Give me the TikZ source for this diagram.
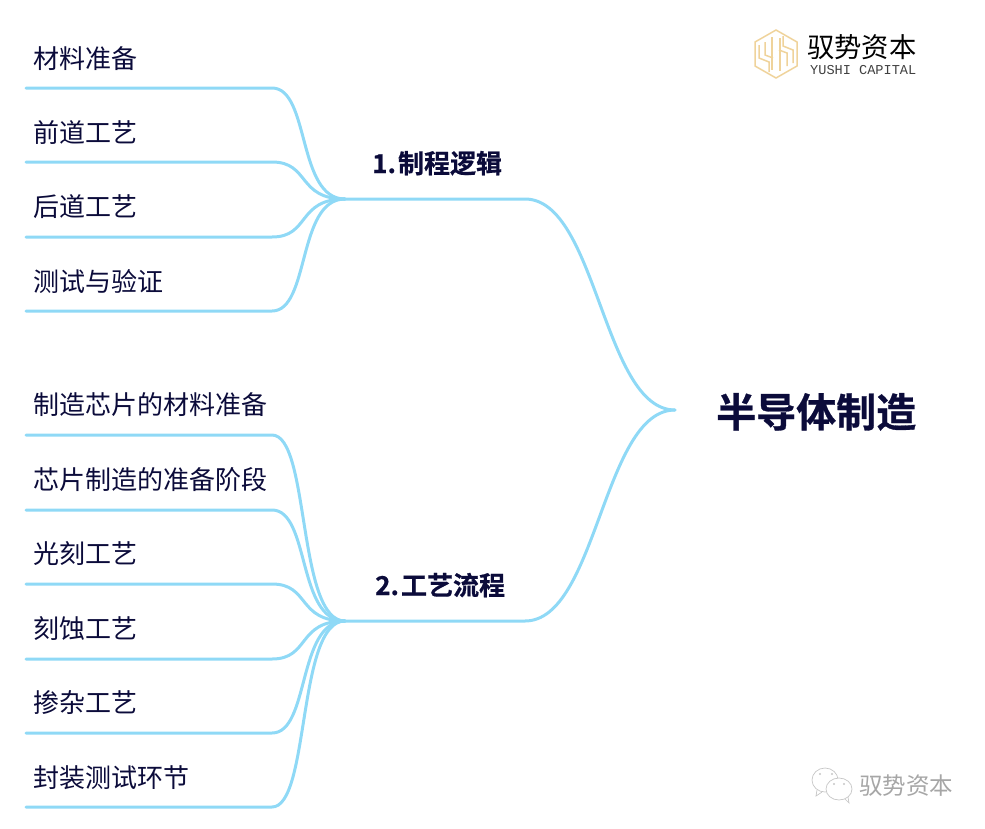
\documentclass[tikz,border=0pt]{standalone}
\usepackage{fontspec}
\setmainfont{Noto Sans CJK SC}
\newfontfamily\logofont{Liberation Mono}
\newfontfamily\heavyfont[UprightFont=* Bold, FakeBold=0.7]{Noto Sans CJK SC}
\newcommand{\branchfont}{\heavyfont\fontsize{26}{26}\selectfont\spaceskip=.1pt\relax}
\definecolor{linkblue}{HTML}{8FD9F6}
\definecolor{inkblue}{HTML}{0B0B3A}
\definecolor{logogold}{HTML}{EFD39B}
\tikzset{
  item/.style={anchor=base west, inner sep=0pt, font=\fontsize{26}{26}\selectfont, text=inkblue},
  branch/.style={anchor=base west, inner sep=0pt, font=\branchfont, text=inkblue},
  link/.style={draw=linkblue, line width=3pt, line cap=round},
  leaf/.style={to path={.. controls +(38,0) and +(-48,0) .. (\tikztotarget)}},
  trunk/.style={to path={.. controls +(72,0) and +(-72,0) .. (\tikztotarget)}},
  gold/.style={draw=logogold, line width=1.5pt},
  bubble/.style={draw=gray!45, line width=.7pt}
}
\begin{document}
\begin{tikzpicture}[x=1pt, y=-1pt]
    \useasboundingbox (0,0) rectangle (985,828);
    % hubs
    \coordinate (root) at (675,410);
    \coordinate (hub1) at (345,199);
    \coordinate (hub2) at (345,621);
    \coordinate (turn1) at (525,199);
    \coordinate (turn2) at (525,621);
    % group 1
    \node[item] (a1) at (33,68) {材料准备};
    \node[item] (a2) at (33,142) {前道工艺};
    \node[item] (a3) at (33,216) {后道工艺};
    \node[item] (a4) at (33,291) {测试与验证};
    \coordinate (a1s) at (26,88);
    \coordinate (a1e) at (272,88);
    \coordinate (a2s) at (26,162);
    \coordinate (a2e) at (272,162);
    \coordinate (a3s) at (26,237);
    \coordinate (a3e) at (272,237);
    \coordinate (a4s) at (26,311);
    \coordinate (a4e) at (272,311);
    \draw[link] (a1s) -- (a1e) to[leaf] (hub1);
    \draw[link] (a2s) -- (a2e) to[leaf] (hub1);
    \draw[link] (a3s) -- (a3e) to[leaf] (hub1);
    \draw[link] (a4s) -- (a4e) to[leaf] (hub1);
    % group 2
    \node[item] (b1) at (33,414) {制造芯片的材料准备};
    \node[item] (b2) at (33,489) {芯片制造的准备阶段};
    \node[item] (b3) at (33,563) {光刻工艺};
    \node[item] (b4) at (33,638) {刻蚀工艺};
    \node[item] (b5) at (33,712) {掺杂工艺};
    \node[item] (b6) at (33,787) {封装测试环节};
    \coordinate (b1s) at (26,435);
    \coordinate (b1e) at (272,435);
    \coordinate (b2s) at (26,510);
    \coordinate (b2e) at (272,510);
    \coordinate (b3s) at (26,584);
    \coordinate (b3e) at (272,584);
    \coordinate (b4s) at (26,659);
    \coordinate (b4e) at (272,659);
    \coordinate (b5s) at (26,733);
    \coordinate (b5e) at (272,733);
    \coordinate (b6s) at (26,807);
    \coordinate (b6e) at (272,807);
    \draw[link] (b1s) -- (b1e) to[leaf] (hub2);
    \draw[link] (b2s) -- (b2e) to[leaf] (hub2);
    \draw[link] (b3s) -- (b3e) to[leaf] (hub2);
    \draw[link] (b4s) -- (b4e) to[leaf] (hub2);
    \draw[link] (b5s) -- (b5e) to[leaf] (hub2);
    \draw[link] (b6s) -- (b6e) to[leaf] (hub2);
    % trunks
    \draw[link] (hub1) -- (turn1) to[trunk] (root);
    \draw[link] (hub2) -- (turn2) to[trunk] (root);
    \node[branch] (t1) at (372,173) {1. 制程逻辑};
    \node[branch] (t2) at (375,595) {2. 工艺流程};
    \node[anchor=base west, inner sep=0pt, font=\heavyfont\fontsize{40}{40}\selectfont, text=inkblue] (main) at (716,427) {半导体制造};
    % logo
    \node[anchor=base west, inner sep=0pt, font=\fontsize{27.3}{27}\selectfont, text=black] (brand) at (807,57) {驭势资本};
    \node[anchor=base west, inner sep=0pt, font=\logofont\fontsize{13.6}{14}\selectfont, text=black!75] (brandsub) at (810,74) {YUSHI CAPITAL};
    \draw[gold] (776,30) -- (797,42) -- (797,66) -- (776,78) -- (755,66) -- (755,42) -- cycle;
    \draw[gold] (759,45) -- (759,58) -- (769,62) -- (769,72);
    \draw[gold] (765,42) -- (765,55) -- (773,58);
    \draw[gold] (772,37) -- (772,70);
    \draw[gold] (793,63) -- (793,50) -- (783,46) -- (783,36);
    \draw[gold] (787,66) -- (787,53) -- (779,50);
    \draw[gold] (780,71) -- (780,38);
    % watermark
    \draw[bubble] (825,780) ellipse (13 and 12);
    \draw[bubble] (817,790) -- (816,796) -- (822,792);
    \fill[gray!45] (820,774) circle (1.2) (832,774) circle (1.2);
    \draw[bubble, fill=white] (839,789) ellipse (13 and 11);
    \draw[bubble] (845,799) -- (849,803) -- (848,797);
    \fill[gray!45] (834,784) circle (1.1) (844,784) circle (1.1);
    \node[anchor=base west, inner sep=0pt, font=\fontsize{23.5}{24}\selectfont, text=gray!70] (stamp) at (859,794) {驭势资本};
\end{tikzpicture}
\end{document}
